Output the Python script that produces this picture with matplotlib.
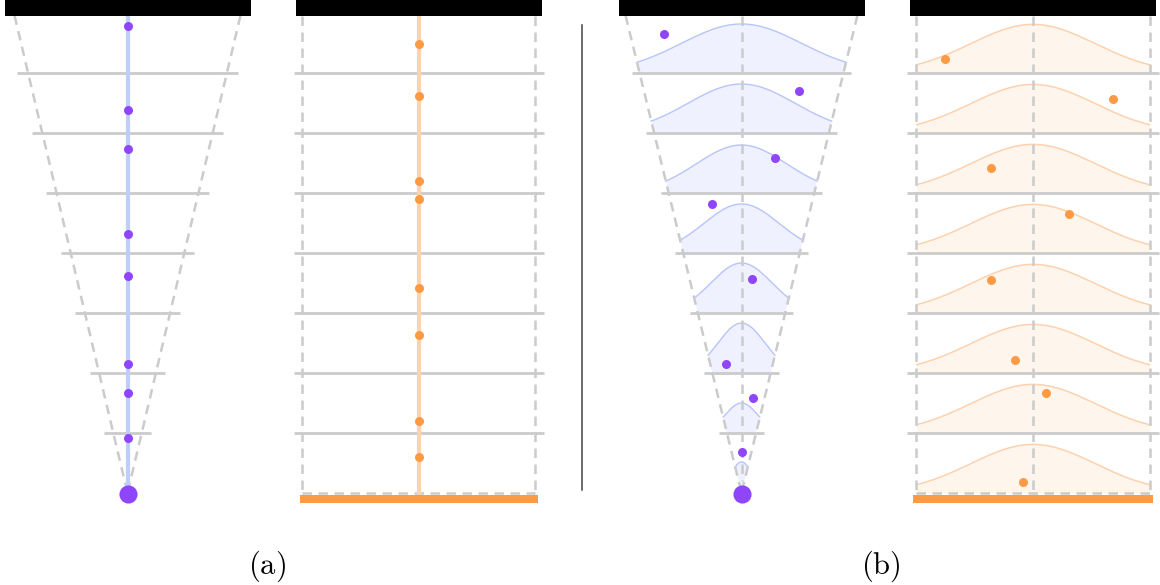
import numpy as np
import matplotlib
matplotlib.use('Agg')
import matplotlib.pyplot as plt
from matplotlib.lines import Line2D

plt.rcParams['mathtext.fontset'] = 'cm'

# ---- data (x: fraction of half width, y: level, 0 = top bar, 8 = bottom) ----
n_levels = 8
a_left_y = [0.217, 1.617, 2.267, 3.683, 4.383, 5.85, 6.333, 7.083]
a_right_y = [0.517, 1.383, 2.8, 3.1, 4.583, 5.367, 6.8, 7.4]
b_left_x = [-0.665, 0.494, 0.288, -0.253, 0.09, -0.133, 0.099, 0.004]
b_left_y = [0.35, 1.3, 2.417, 3.183, 4.433, 5.85, 6.417, 7.317]
b_right_x = [-0.755, 0.687, -0.361, 0.309, -0.361, -0.155, 0.112, -0.086]
b_right_y = [0.767, 1.433, 2.583, 3.35, 4.45, 5.783, 6.333, 7.817]
# gaussian width / peak height per level
b_left_sigma = [0.515, 0.46, 0.389, 0.322, 0.261, 0.2, 0.14, 0.092]
b_left_peak = [0.817, 0.817, 0.8, 0.817, 0.833, 0.833, 0.5, 0.517]
b_right_sigma = 0.532
b_right_peak = 0.81

# ---- style ----
purple = '#8f45fb'
orange = '#fd9a42'
blue_line = '#bfcdfb'
orange_line = '#fdd3ae'
blue_fill = '#eff1fe'
blue_edge = '#b8c5fa'
or_fill = '#fef5ed'
or_edge = '#fdd1ad'
gray = '#cbcbcb'
U = 116.5          # px per x unit
LV = 60.0          # px per level
TOP = -13 / LV
dash_kw = dict(color=gray, lw=1.8, dashes=(3.8, 2.6))

W, H = 1160, 585
fig = plt.figure(figsize=(W / 100, H / 100), dpi=100)


def make_ax(cx):
    ax = fig.add_axes([(cx - 130) / W, 0, 260 / W, 1])
    ax.set_xlim(-130 / U, 130 / U)
    ax.set_ylim((H - 13) / LV, TOP)
    ax.axis('off')
    return ax


def trumpet(L):
    return (n_levels - np.asarray(L)) / n_levels


def top_bar(ax):
    ax.fill_between([-123 / U, 123 / U], TOP, 3 / LV, color='black', lw=0, zorder=8)


def gray_lines(ax, halfs):
    for k in range(1, n_levels):
        ax.plot([-halfs[k - 1], halfs[k - 1]], [k, k], color=gray, lw=2, zorder=3,
                solid_capstyle='butt')


# ---- (a) left: shrinking funnel ----
ax = make_ax(127.5)
top_bar(ax)
for s in (-1, 1):
    ax.plot([s * trumpet(TOP) * 0.975, 0], [TOP, n_levels], zorder=2, **dash_kw)
gray_lines(ax, [trumpet(k) + 8.5 / U for k in range(1, n_levels)])
ax.plot([0, 0], [TOP, n_levels], color=blue_line, lw=3, zorder=4)
ax.scatter(np.zeros(len(a_left_y)), a_left_y, s=42, color=purple, lw=0, zorder=6)
ax.scatter([0], [n_levels + 0.02], s=170, color=purple, lw=0, zorder=6)

# ---- (a) right: cylinder ----
ax = make_ax(418.5)
top_bar(ax)
for s in (-1, 1):
    ax.plot([s, s], [TOP, n_levels], zorder=2, **dash_kw)
ax.plot([-1, 1], [n_levels, n_levels], zorder=2, **dash_kw)
gray_lines(ax, [125 / U] * (n_levels - 1))
ax.plot([0, 0], [TOP, n_levels + 0.05], color=orange_line, lw=3, zorder=4)
ax.fill_between([-119 / U, 119 / U], n_levels + 0.03, n_levels + 0.17, color=orange,
                lw=0, zorder=5)
ax.scatter(np.zeros(len(a_right_y)), a_right_y, s=42, color=orange, lw=0, zorder=6)

# separator
fig.add_artist(Line2D([582 / W, 582 / W], [1 - 25 / H, 1 - 490 / H], color='#444444',
                      lw=1.1))

# ---- (b) left: funnel with gaussians ----
ax = make_ax(741.5)
top_bar(ax)
xg = np.linspace(-1.2, 1.2, 3000)
for k in range(1, n_levels + 1):
    yc = k - b_left_peak[k - 1] * np.exp(-xg ** 2 / (2 * b_left_sigma[k - 1] ** 2))
    m = np.abs(xg) <= trumpet(yc)
    xs = np.concatenate([xg[m], [trumpet(k), -trumpet(k)]])
    ys = np.concatenate([yc[m], [k, k]])
    ax.fill(xs, ys, color=blue_fill, lw=0, zorder=1)
    ax.plot(xg[m], yc[m], color=blue_edge, lw=1, zorder=2)
ax.plot([0, 0], [TOP, 7.8], zorder=2, **dash_kw)
for s in (-1, 1):
    ax.plot([s * trumpet(TOP), 0], [TOP, n_levels], zorder=2, **dash_kw)
gray_lines(ax, [trumpet(k) + 8 / U for k in range(1, n_levels)])
ax.scatter(b_left_x, b_left_y, s=42, color=purple, lw=0, zorder=6)
ax.scatter([0], [n_levels + 0.02], s=170, color=purple, lw=0, zorder=6)

# ---- (b) right: cylinder with gaussians ----
ax = make_ax(1033)
top_bar(ax)
xg = np.linspace(-1, 1, 400)
for k in range(1, n_levels + 1):
    yc = k - b_right_peak * np.exp(-xg ** 2 / (2 * b_right_sigma ** 2))
    ax.fill_between(xg, yc, k, color=or_fill, lw=0, zorder=1)
    ax.plot(xg, yc, color=or_edge, lw=1.1, zorder=2)
ax.plot([0, 0], [TOP, n_levels], zorder=2, **dash_kw)
for s in (-1, 1):
    ax.plot([s, s], [TOP, n_levels], zorder=2, **dash_kw)
ax.plot([-1, 1], [n_levels, n_levels], zorder=2, **dash_kw)
gray_lines(ax, [126 / U] * (n_levels - 1))
ax.fill_between([-120 / U, 120 / U], n_levels + 0.03, n_levels + 0.17, color=orange,
                lw=0, zorder=5)
ax.scatter(b_right_x, b_right_y, s=42, color=orange, lw=0, zorder=6)

# labels
fig.text(267 / W, 1 - 566 / H, r'$\mathrm{(a)}$', fontsize=22, ha='center', va='center')
fig.text(881 / W, 1 - 566 / H, r'$\mathrm{(b)}$', fontsize=22, ha='center', va='center')

fig.savefig('out.png', dpi=100)
